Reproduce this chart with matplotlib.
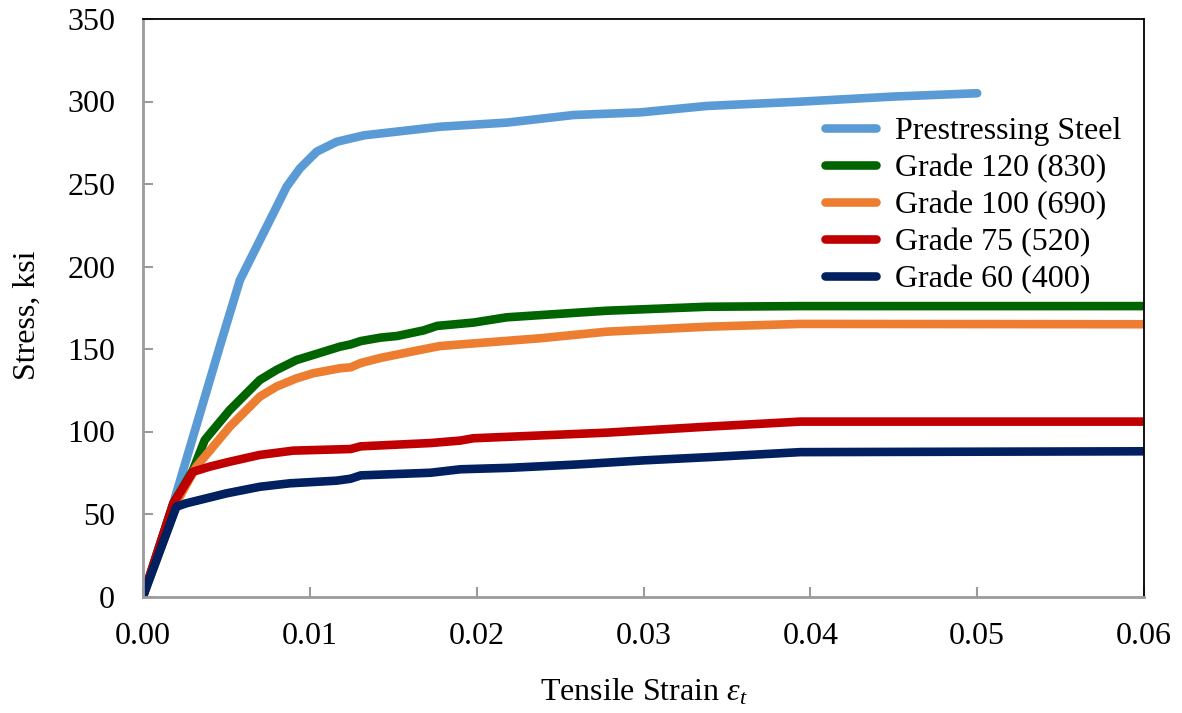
import matplotlib
matplotlib.use("Agg")
import matplotlib.pyplot as plt

# ---- data ----
ps_strain = [0, 0.00182, 0.00472, 0.00581, 0.00681, 0.00801, 0.00861, 0.00941, 0.01041,
             0.01161, 0.01325, 0.0150, 0.0178, 0.0218, 0.0258, 0.0298, 0.0338, 0.0394, 0.045, 0.050]
ps_stress = [0, 56.5, 155.5, 191.8, 212, 236.2, 248.4, 259.5, 269.6,
             275.6, 279.5, 281.5, 284.7, 287.2, 291.8, 293.4, 297.3, 299.9, 303, 305]

g120_strain = [0, 0.00182, 0.0030, 0.0037, 0.0042, 0.0052, 0.0060, 0.0070, 0.0080, 0.0092,
               0.0102, 0.0118, 0.01245, 0.01305, 0.01424, 0.01524, 0.01683, 0.01763, 0.0198,
               0.0218, 0.0278, 0.0338, 0.0394, 0.060]
g120_stress = [0, 56.5, 76.7, 94.8, 100.9, 113, 121.1, 131.2, 137.3, 143.3,
               146.4, 151.4, 152.8, 154.8, 156.9, 157.9, 161.3, 164, 166,
               169.2, 173.2, 175.6, 176, 176]

g100_strain = [0, 0.0022, 0.0032, 0.0042, 0.0052, 0.0060, 0.0070, 0.0080, 0.0092, 0.0102,
               0.0118, 0.01245, 0.01305, 0.01424, 0.01624, 0.0178, 0.0238, 0.0278, 0.0338,
               0.0394, 0.060]
g100_stress = [0, 60.5, 78.7, 90.8, 102.9, 111, 121.1, 127.2, 132.2, 135.3,
               138.3, 138.9, 141.5, 144.6, 148.7, 151.8, 156.5, 160.5, 163.5,
               165.2, 165]

g75_strain = [0, 0.00182, 0.0030, 0.0040, 0.0052, 0.0070, 0.0090, 0.0118, 0.01245, 0.01305,
              0.01723, 0.01902, 0.0198, 0.0278, 0.0338, 0.0394, 0.060]
g75_stress = [0, 56.5, 75.6, 78.7, 81.7, 85.8, 88.4, 89.2, 89.4, 91,
              93, 94.5, 95.9, 99.3, 102.9, 106, 106]

g60_strain = [0, 0.0020, 0.0026, 0.0038, 0.0050, 0.0070, 0.0088, 0.0116, 0.01245, 0.01305,
              0.01723, 0.01902, 0.022, 0.026, 0.030, 0.034, 0.0394, 0.060]
g60_stress = [0, 54.4, 56.5, 59.5, 62.5, 66.5, 68.6, 70.2, 71.4, 73.4,
              75, 77.1, 78, 80, 82.5, 84.5, 87.5, 88]

labels = ["Prestressing Steel", "Grade 120 (830)", "Grade 100 (690)",
          "Grade 75 (520)", "Grade 60 (400)"]
colors = ["#5B9BD5", "#006400", "#ED7D31", "#C00000", "#002060"]

x_ticks = [0.00, 0.01, 0.02, 0.03, 0.04, 0.05, 0.06]
y_ticks = [0, 50, 100, 150, 200, 250, 300, 350]

plt.rcParams['font.family'] = ['Liberation Serif', 'DejaVu Serif']
plt.rcParams['mathtext.fontset'] = 'custom'
plt.rcParams['mathtext.it'] = 'Liberation Serif:italic'
plt.rcParams['mathtext.rm'] = 'Liberation Serif'

fig = plt.figure(figsize=(11.82, 7.13), dpi=100)
ax = fig.add_axes([143 / 1182, 1 - 596.5 / 713, (1144 - 143) / 1182, (596.5 - 19) / 713])

series = [(ps_strain, ps_stress), (g120_strain, g120_stress), (g100_strain, g100_stress),
          (g75_strain, g75_stress), (g60_strain, g60_stress)]
for (xs, ys), lab, col in zip(series, labels, colors):
    ax.plot(xs, ys, color=col, lw=6.2, label=lab, solid_capstyle='round',
            solid_joinstyle='round')

ax.set_xlim(0, 0.06)
ax.set_ylim(0, 350)
ax.set_xticks(x_ticks)
ax.set_xticklabels([f"{v:.2f}" for v in x_ticks])
ax.set_yticks(y_ticks)
ax.set_yticklabels([str(v) for v in y_ticks])

for s in ['left', 'bottom']:
    ax.spines[s].set_color('#9B9B9B')
    ax.spines[s].set_linewidth(2)
for s in ['top', 'right']:
    ax.spines[s].set_color('black')
    ax.spines[s].set_linewidth(1.3)

ax.tick_params(axis='both', direction='in', color='#9B9B9B', width=1.5, length=7,
               labelsize=23)
ax.tick_params(axis='x', pad=18)
ax.tick_params(axis='y', pad=20)

ax.set_xlabel(r"Tensile Strain $\varepsilon_t$", fontsize=23, labelpad=19)
ax.set_ylabel("Stress, ksi", fontsize=23, labelpad=18)
ax.yaxis.label.set_y(0.487)

leg = ax.legend(loc='upper left', bbox_to_anchor=(0.681, 0.831), frameon=False,
                fontsize=23, handlelength=1.6, handletextpad=0.6, labelspacing=0.24,
                borderpad=0, borderaxespad=0)

fig.savefig("out.png", dpi=100)
